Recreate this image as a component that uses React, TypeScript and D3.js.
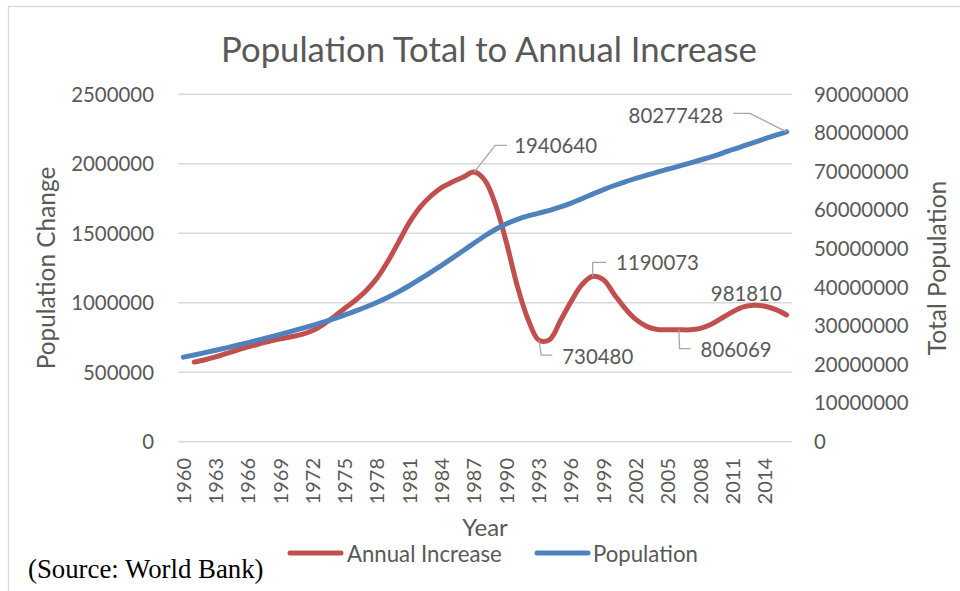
import React from 'react';
import * as d3 from 'd3';

const years: number[] = [
  1960, 1961, 1962, 1963, 1964, 1965, 1966, 1967, 1968, 1969,
  1970, 1971, 1972, 1973, 1974, 1975, 1976, 1977, 1978, 1979,
  1980, 1981, 1982, 1983, 1984, 1985, 1986, 1987, 1988, 1989,
  1990, 1991, 1992, 1993, 1994, 1995, 1996, 1997, 1998, 1999,
  2000, 2001, 2002, 2003, 2004, 2005, 2006, 2007, 2008, 2009,
  2010, 2011, 2012, 2013, 2014, 2015, 2016,
];

const annualIncrease: (number | null)[] = [
  null, 573000, 590000, 610000, 635000, 660000, 682000, 703000, 722000, 740000,
  755000, 772000, 800000, 845000, 900000, 960000, 1020000, 1090000, 1180000, 1300000,
  1440000, 1580000, 1690000, 1770000, 1830000, 1870000, 1905000, 1940640, 1880000, 1700000,
  1430000, 1120000, 880000, 730480, 735000, 870000, 1010000, 1130000, 1190073, 1165000,
  1060000, 960000, 880000, 830000, 808000, 806000, 806069, 805000, 815000, 845000,
  890000, 935000, 970000, 981810, 975000, 950000, 912000,
];

const population: number[] = [
  21907000, 22480000, 23070000, 23680000, 24315000, 24975000, 25657000, 26360000, 27082000, 27822000,
  28577000, 29349000, 30149000, 30994000, 31894000, 32854000, 33874000, 34964000, 36144000, 37444000,
  38884000, 40464000, 42154000, 43924000, 45754000, 47624000, 49529000, 51470000, 53350000, 55050000,
  56480000, 57600000, 58480000, 59210000, 59945000, 60815000, 61825000, 62955000, 64145000, 65310000,
  66370000, 67330000, 68210000, 69040000, 69848000, 70600000, 71400000, 72180000, 72980000, 73800000,
  74720000, 75700000, 76620000, 77570000, 78500000, 79400000, 80277428,
];

const leftTicks: number[] = [0, 500000, 1000000, 1500000, 2000000, 2500000];
const rightTicks: number[] = [0, 10000000, 20000000, 30000000, 40000000, 50000000, 60000000, 70000000, 80000000, 90000000];
const xTickYears: number[] = [1960, 1963, 1966, 1969, 1972, 1975, 1978, 1981, 1984, 1987, 1990, 1993, 1996, 1999, 2002, 2005, 2008, 2011, 2014];

const titleText = 'Population Total to Annual Increase';
const leftAxisTitle = 'Population Change';
const rightAxisTitle = 'Total Population';
const xAxisTitle = 'Year';
const seriesNames = ['Annual Increase', 'Population'];
const sourceText = '(Source: World Bank)';

// Annotated points: series, year
const labelledPoints: { series: 'inc' | 'pop'; year: number }[] = [
  { series: 'inc', year: 1987 },
  { series: 'inc', year: 1993 },
  { series: 'inc', year: 1998 },
  { series: 'inc', year: 2006 },
  { series: 'inc', year: 2013 },
  { series: 'pop', year: 2016 },
];

// leader/label placement (style, not data)
const labelStyle: Record<string, { leader: [number, number][]; tx: number; ty: number; anchor: string }> = {
  'inc-1987': { leader: [[21, -26.7], [32.7, -26.7]], tx: 40, ty: -26, anchor: 'start' },
  'inc-1993': { leader: [[2.4, 15], [13.4, 15]], tx: 23.4, ty: 16, anchor: 'start' },
  'inc-1998': { leader: [[0, -14], [13.4, -14]], tx: 23.4, ty: -13.4, anchor: 'start' },
  'inc-2006': { leader: [[0.7, 19], [11.7, 19]], tx: 21.7, ty: 20, anchor: 'start' },
  'inc-2013': { leader: [], tx: -8, ty: -12, anchor: 'middle' },
  'pop-2016': { leader: [[-36.7, -18.4], [-53.4, -18.4]], tx: -63.4, ty: -16, anchor: 'end' },
};

const RED = '#C0504D';
const BLUE = '#4F81BD';
const TEXT = '#595959';
const GRID = '#D9D9D9';
const FONT = 'Lato, Carlito, Calibri, sans-serif';

export default function App() {
  const W = 960;
  const H = 591;
  const left = 178;
  const right = 792;
  const top = 94.3;
  const bottom = 441.7;

  const x = d3.scalePoint<number>().domain(years).range([left, right]).padding(0.5);
  const yL = d3.scaleLinear().domain([0, 2500000]).range([bottom, top]);
  const yR = d3.scaleLinear().domain([0, 90000000]).range([bottom, top]);

  const incData = years.map((yr, i) => ({ yr, v: annualIncrease[i] }));
  const popData = years.map((yr, i) => ({ yr, v: population[i] }));

  const incLine = d3
    .line<{ yr: number; v: number | null }>()
    .defined((d) => d.v != null)
    .x((d) => x(d.yr) as number)
    .y((d) => yL(d.v as number))
    .curve(d3.curveCatmullRom.alpha(0.5));

  const popLine = d3
    .line<{ yr: number; v: number }>()
    .x((d) => x(d.yr) as number)
    .y((d) => yR(d.v))
    .curve(d3.curveCatmullRom.alpha(0.5));

  const fmt = (n: number) => String(Math.round(n));

  return (
    <svg
      width={W}
      height={H}
      viewBox={`0 0 ${W} ${H}`}
      style={{ position: 'absolute', left: 0, top: 0, background: '#fff' }}
      fontFamily={FONT}
    >
      <rect x={0} y={0} width={W} height={H} fill="#fff" />
      {/* chart frame */}
      <rect x={8.5} y={6.5} width={W + 20} height={H + 20} fill="none" stroke={GRID} strokeWidth={1.3} />

      {/* title */}
      <text x={489} y={62} textAnchor="middle" fontSize={34.7} fill={TEXT}>
        {titleText}
      </text>

      {/* gridlines */}
      {leftTicks.map((t) => (
        <line key={'g' + t} x1={left} x2={right} y1={yL(t)} y2={yL(t)} stroke={GRID} strokeWidth={1.4} />
      ))}

      {/* left tick labels */}
      {leftTicks.map((t) => (
        <text key={'lt' + t} x={154} y={yL(t)} dy="0.36em" textAnchor="end" fontSize={20.4} fill={TEXT}>
          {fmt(t)}
        </text>
      ))}

      {/* right tick labels */}
      {rightTicks.map((t) => (
        <text key={'rt' + t} x={814} y={yR(t)} dy="0.36em" textAnchor="start" fontSize={20.4} fill={TEXT}>
          {fmt(t)}
        </text>
      ))}

      {/* x tick labels */}
      {xTickYears.map((yr) => (
        <text
          key={'xt' + yr}
          transform={`translate(${x(yr)},458) rotate(-90)`}
          dy="0.36em"
          textAnchor="end"
          fontSize={20}
          fill={TEXT}
        >
          {yr}
        </text>
      ))}

      {/* axis titles */}
      <text transform={`translate(46.7,${(top + bottom) / 2}) rotate(-90)`} dy="0.36em" textAnchor="middle" fontSize={24.4} fill={TEXT}>
        {leftAxisTitle}
      </text>
      <text transform={`translate(937,${(top + bottom) / 2}) rotate(-90)`} dy="0.36em" textAnchor="middle" fontSize={24.6} fill={TEXT}>
        {rightAxisTitle}
      </text>
      <text x={485} y={536} textAnchor="middle" fontSize={24} fill={TEXT}>
        {xAxisTitle}
      </text>

      {/* series */}
      <path d={incLine(incData) || ''} fill="none" stroke={RED} strokeWidth={5} strokeLinejoin="round" strokeLinecap="round" />
      <path d={popLine(popData) || ''} fill="none" stroke={BLUE} strokeWidth={5} strokeLinejoin="round" strokeLinecap="round" />

      {/* data labels */}
      {labelledPoints.map((p) => {
        const key = `${p.series}-${p.year}`;
        const st = labelStyle[key];
        const i = years.indexOf(p.year);
        const v = p.series === 'inc' ? (annualIncrease[i] as number) : population[i];
        const px = x(p.year) as number;
        const py = p.series === 'inc' ? yL(v) : yR(v);
        const pts: [number, number][] = [[px, py], ...st.leader.map(([dx, dy]) => [px + dx, py + dy] as [number, number])];
        return (
          <g key={key}>
            {st.leader.length > 0 && (
              <path d={d3.line()(pts) || ''} fill="none" stroke="#A6A6A6" strokeWidth={1.3} />
            )}
            <text x={px + st.tx} y={py + st.ty} dy="0.36em" textAnchor={st.anchor as any} fontSize={20.4} fill={TEXT}>
              {fmt(v)}
            </text>
          </g>
        );
      })}

      {/* legend */}
      <line x1={290} x2={341} y1={553} y2={553} stroke={RED} strokeWidth={5} strokeLinecap="round" />
      <text x={347} y={554} dy="0.36em" fontSize={22.2} fill={TEXT}>
        {seriesNames[0]}
      </text>
      <line x1={537} x2={588} y1={553} y2={553} stroke={BLUE} strokeWidth={5} strokeLinecap="round" />
      <text x={593} y={554} dy="0.36em" fontSize={22.2} fill={TEXT}>
        {seriesNames[1]}
      </text>

      {/* source */}
      <text x={28} y={578} fontFamily="'Liberation Serif', 'Times New Roman', serif" fontSize={26.8} fill="#000">
        {sourceText}
      </text>
    </svg>
  );
}
